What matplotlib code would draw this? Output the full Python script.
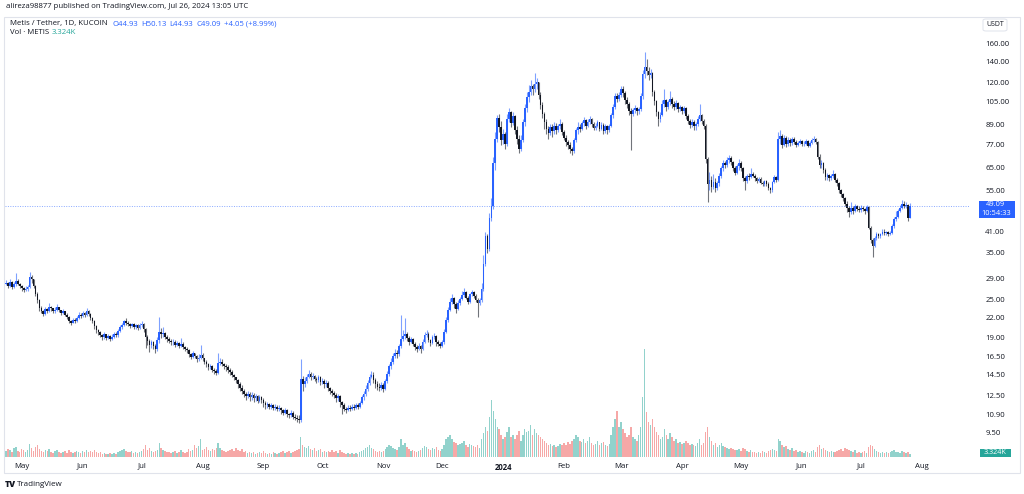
import numpy as np
import pandas as pd
import matplotlib
matplotlib.use("Agg")
import matplotlib.pyplot as plt
import matplotlib.dates as mdates
from matplotlib.patches import Rectangle, FancyBboxPatch
from matplotlib.ticker import NullLocator

plt.rcParams['font.family'] = ['Open Sans', 'DejaVu Sans']

# daily METIS/USDT (KuCoin) values, Apr 2023 -> Jul 26 2024
first_open = 28.0
last_date = "2024-07-26"
# last candle as shown in the legend: open, high, low, close / change, change %
last_ohlc = [44.93, 50.13, 44.93, 49.09]
last_change = [4.05, 8.99]

closes = [
    28.2, 27.6, 28.4, 27.3, 27.9, 28.6, 28.0, 27.5, 27.2, 26.7, 27.0,
    27.4, 29.5, 28.9, 27.5, 26.0, 24.8, 23.4, 23.0,
    22.5, 23.3, 23.0, 23.7, 23.4, 22.9, 23.2, 23.6, 23.1, 22.7, 22.9, 22.4, 22.0,
    21.3, 21.1, 21.6, 21.4, 21.9, 22.4, 22.1, 22.6, 22.3, 23.0, 22.5,
    21.8, 21.4, 20.6, 20.0, 19.7, 19.3, 19.0, 19.4, 18.9, 19.2, 18.8,
    19.1, 19.5, 19.3, 19.9, 20.4, 20.8, 21.3, 21.1, 20.9,
    20.6, 20.9, 20.4, 20.7, 20.3, 20.8, 20.9, 20.2, 19.1, 18.5, 18.0, 18.3, 17.8, 17.5,
    18.6, 19.8, 19.4, 19.6, 19.0, 18.7, 18.5, 18.3, 18.4, 18.0, 18.2, 17.9, 18.1, 17.7, 17.5, 17.3,
    16.8, 16.5, 16.9, 16.6, 16.2, 16.4, 16.7, 16.3, 15.9, 15.6, 15.3, 15.4, 15.0, 14.9, 14.7, 15.8, 15.9, 15.7,
    15.4, 15.3, 15.0, 14.8, 14.5, 14.2, 13.9, 13.5, 13.2, 12.9, 12.6, 12.4, 12.6, 12.3, 12.5, 12.2, 12.4, 12.0, 12.3, 12.1, 11.8,
    11.6, 11.7, 11.5, 11.6, 11.4, 11.5, 11.3, 11.4, 11.2, 11.0, 11.2, 10.9, 10.8, 11.0, 10.7, 10.6, 10.5,
    10.4, 14.0, 13.5, 13.8, 14.3, 14.6, 14.2, 14.4, 14.0, 13.9, 14.2, 13.7, 13.8, 13.5, 13.6,
    13.2, 12.9, 12.7, 12.5, 12.2, 12.4, 11.9, 11.6, 11.3, 11.2, 11.4, 11.3, 11.5, 11.4, 11.6, 11.5, 11.8,
    12.3, 12.6, 13.1, 13.6, 14.3, 14.5, 13.9, 13.5, 13.3, 13.2, 13.4, 13.1, 13.8, 14.6, 15.4, 15.9, 16.6, 17.0, 16.8,
    17.8, 18.8, 19.2, 19.5, 18.9, 18.4, 18.7, 18.1, 17.7, 17.5, 17.8, 17.4, 18.4, 19.3, 19.5, 18.6, 18.2, 19.0, 19.2, 18.3, 18.1, 17.9, 18.3,
    19.8, 21.5, 23.2, 24.6, 25.2, 24.1, 23.3, 24.4, 25.0, 25.8, 26.4, 25.3, 24.6, 25.9, 26.3, 25.6, 24.8, 24.3, 24.9,
    27.0, 32.3, 39.6, 36.0, 45.0, 49.0, 67.0, 80.0, 93.0,
    87.0, 79.0, 82.5, 76.8, 92.0, 97.0, 89.5, 94.0, 85.0, 80.0, 74.0, 79.5, 90.0, 100.0, 108.0,
    112.0, 117.0, 114.5, 119.0, 120.5, 110.0, 102.0, 96.0, 90.0, 86.0, 83.5, 87.0, 84.5,
    88.0, 85.5, 87.5, 89.0, 84.0, 80.5, 78.0, 76.5, 74.0, 73.0, 79.0, 85.0, 87.0, 86.0,
    89.5, 91.5, 88.0, 90.5, 92.5, 89.0, 86.5, 88.0, 90.0, 86.0, 88.5, 84.5, 87.5, 85.0, 88.0,
    95.0, 101.0, 109.0, 107.0, 110.0, 115.0, 111.0, 106.0, 103.0, 98.0, 96.0, 98.5, 100.0, 97.5, 99.5, 109.0,
    128.0, 134.0, 131.0, 127.0, 129.0, 112.0, 105.0, 97.0, 92.0, 95.0, 103.0, 106.0, 101.0, 104.0, 106.5, 103.0,
    101.0, 103.5, 99.0, 100.5, 98.0, 100.0, 94.0, 91.0, 88.5, 90.5, 87.5, 89.0, 92.5, 95.0, 91.0, 88.0,
    69.0, 57.5, 59.5, 56.5, 58.5, 56.0, 58.0, 61.0, 64.5, 67.0, 66.0, 68.5, 69.5, 67.5, 64.5, 62.5, 65.5, 67.0, 64.5, 60.0, 58.8,
    61.0, 60.5, 62.0, 61.2, 60.0, 59.0, 59.8, 58.2, 57.5, 58.8, 57.8, 56.0, 55.0, 58.5, 60.5, 59.5,
    80.0, 81.5, 76.5, 80.5, 77.0, 79.5, 77.5, 80.0, 78.0, 76.5, 77.8, 78.5, 76.8, 77.2, 78.8, 76.0, 77.5, 79.0, 80.0, 78.0,
    70.0, 66.0, 67.0, 64.0, 60.5, 61.5, 60.0, 61.0, 62.0, 59.5, 58.0, 55.0, 53.5, 52.0, 50.0, 48.5, 47.0,
    48.5, 47.5, 49.0, 48.2, 47.8, 48.5, 48.0, 47.3, 48.7, 42.0, 38.5, 36.8,
    39.0, 40.2, 39.5, 40.0, 40.8, 40.3, 40.6, 40.0, 40.5, 42.5, 44.8, 45.5, 47.5, 48.5, 50.0, 49.0, 49.5, 45.04, 49.09,
]

highs = [
    28.7, 28.4, 29.0, 28.6, 28.3, 30.2, 28.9, 28.2, 27.8, 27.4, 27.6,
    27.8, 30.5, 29.8, 29.0, 27.7, 26.3, 25.1, 23.8,
    23.2, 23.6, 23.5, 24.3, 23.9, 23.5, 23.6, 24.1, 23.7, 23.2, 23.3, 23.0, 22.6,
    22.1, 21.6, 21.9, 21.8, 22.2, 22.8, 22.6, 22.9, 22.8, 23.4, 23.1,
    22.6, 22.0, 21.6, 20.8, 20.2, 19.9, 19.5, 19.7, 19.5, 19.5, 19.3,
    19.4, 19.8, 19.7, 20.2, 20.7, 21.1, 21.6, 21.8, 21.3,
    21.0, 21.1, 21.1, 20.9, 20.9, 21.0, 21.4, 21.0, 20.3, 19.3, 18.7, 18.6, 18.5, 18.1,
    19.0, 22.0, 20.3, 20.5, 19.8, 19.3, 19.0, 18.8, 18.7, 18.6, 18.5, 18.4, 18.9, 18.3, 17.9, 17.7,
    17.4, 16.9, 17.2, 17.0, 16.7, 16.8, 18.0, 16.9, 16.4, 16.1, 15.8, 15.7, 15.5, 15.2, 15.1, 17.0, 16.4, 16.2,
    15.8, 15.7, 15.5, 15.2, 15.0, 14.6, 14.3, 14.0, 13.7, 13.4, 13.1, 12.8, 12.9, 12.8, 12.8, 12.7, 12.6, 12.5, 12.5, 12.4, 12.2,
    12.0, 11.9, 11.8, 11.8, 11.7, 11.7, 11.6, 11.6, 11.5, 11.3, 11.4, 11.3, 11.0, 11.2, 11.1, 10.9, 10.8,
    10.8, 16.2, 14.4, 14.2, 14.6, 15.0, 14.8, 14.7, 14.5, 14.3, 14.5, 14.4, 14.1, 14.0, 13.9,
    13.8, 13.3, 13.1, 12.9, 12.7, 12.6, 12.5, 12.0, 11.8, 11.5, 11.6, 11.6, 11.7, 11.7, 11.8, 11.8, 12.0,
    12.5, 12.9, 13.4, 13.9, 14.6, 14.9, 14.8, 14.1, 13.8, 13.6, 13.7, 13.6, 14.0, 14.9, 15.7, 16.3, 17.0, 17.4, 17.3,
    18.1, 22.4, 20.0, 21.8, 19.8, 19.2, 19.0, 18.9, 18.3, 18.0, 18.2, 18.0, 18.7, 19.7, 20.0, 19.7, 18.8, 19.3, 19.6, 19.3, 18.6, 18.4, 18.6,
    20.1, 22.0, 23.6, 25.2, 26.0, 25.5, 24.5, 24.8, 25.5, 26.5, 27.1, 26.6, 25.6, 26.2, 26.8, 26.6, 25.9, 25.2, 25.3,
    28.2, 34.5, 40.8, 40.2, 46.8, 52.0, 70.0, 84.0, 95.0,
    96.0, 91.0, 86.0, 84.0, 96.0, 100.0, 98.0, 97.0, 95.0, 88.0, 82.0, 82.0, 92.0, 103.0, 112.0,
    118.0, 122.0, 119.0, 129.0, 124.0, 121.0, 112.0, 104.0, 97.0, 92.0, 88.0, 89.0, 89.0,
    90.0, 89.5, 89.0, 92.0, 90.0, 85.5, 82.0, 79.5, 78.0, 75.5, 80.5, 86.5, 90.0, 89.0,
    91.0, 93.5, 92.5, 92.0, 94.0, 93.0, 90.0, 89.5, 91.5, 90.5, 90.0, 89.5, 89.0, 88.5, 89.0,
    96.5, 103.0, 111.0, 111.0, 112.0, 117.0, 117.0, 113.0, 108.0, 104.0, 100.0, 100.0, 102.0, 101.0, 101.0, 111.0,
    132.0, 150.0, 142.0, 134.0, 133.0, 130.0, 114.0, 106.0, 98.0, 97.0, 106.0, 115.0, 107.0, 106.0, 113.0, 108.0,
    105.0, 106.0, 104.0, 102.0, 101.5, 101.5, 100.5, 96.0, 92.5, 92.0, 91.5, 90.5, 94.0, 103.0, 96.0, 92.0,
    89.0, 70.0, 63.0, 61.0, 62.0, 60.0, 59.0, 62.5, 65.5, 68.5, 68.0, 70.0, 71.0, 70.5, 68.0, 65.5, 66.5, 69.0, 68.0, 65.0, 61.0,
    62.0, 62.5, 64.5, 63.0, 62.0, 60.5, 60.5, 60.5, 58.8, 59.5, 59.3, 58.3, 56.5, 59.0, 61.5, 61.0,
    84.0, 85.0, 82.5, 82.0, 81.5, 81.0, 80.5, 81.0, 81.0, 79.0, 78.5, 80.0, 79.0, 78.5, 80.0, 79.5, 78.5, 80.5, 81.5, 80.5,
    78.5, 71.5, 68.5, 67.5, 64.5, 62.5, 62.0, 62.0, 64.0, 62.5, 60.0, 58.5, 55.5, 54.0, 52.5, 51.0, 49.0,
    50.5, 49.0, 50.0, 49.5, 49.0, 49.5, 49.0, 48.5, 49.5, 49.0, 42.5, 39.0,
    39.5, 40.8, 40.5, 40.5, 41.5, 41.5, 41.0, 41.0, 41.0, 43.0, 45.5, 47.5, 48.0, 49.5, 51.5, 51.0, 50.5, 50.0, 50.13,
]

lows = [
    27.7, 27.2, 27.4, 27.0, 27.1, 27.6, 27.7, 27.1, 26.6, 26.3, 26.5,
    26.6, 27.1, 28.2, 27.2, 25.6, 24.3, 23.0, 22.6,
    22.1, 22.3, 22.7, 22.8, 23.0, 22.6, 22.7, 23.0, 22.8, 22.4, 22.5, 22.1, 21.7,
    21.0, 20.8, 21.0, 21.1, 21.2, 21.7, 21.8, 22.0, 22.0, 22.1, 22.2,
    21.5, 21.0, 20.2, 19.6, 19.3, 19.0, 18.6, 18.8, 18.6, 18.7, 18.5,
    18.6, 18.9, 19.0, 19.1, 19.7, 20.2, 20.6, 20.8, 20.6,
    20.3, 20.4, 20.1, 20.2, 20.0, 20.2, 20.5, 19.8, 17.6, 18.0, 17.1, 17.6, 17.4, 17.0,
    17.2, 18.2, 18.9, 19.0, 18.7, 18.4, 18.2, 18.0, 18.0, 17.7, 17.8, 17.6, 17.7, 17.4, 17.2, 17.0,
    16.5, 16.2, 16.4, 16.3, 15.9, 16.0, 16.2, 16.0, 15.6, 15.3, 15.0, 15.1, 14.8, 14.6, 14.5, 14.6, 15.5, 15.4,
    15.1, 14.9, 14.7, 14.5, 14.2, 13.9, 13.6, 13.2, 12.9, 12.6, 12.3, 12.1, 12.2, 12.0, 12.1, 11.9, 12.0, 11.8, 11.9, 11.8, 11.5,
    11.3, 11.4, 11.3, 11.3, 11.2, 11.2, 11.1, 11.1, 10.9, 10.8, 10.9, 10.7, 10.6, 10.7, 10.5, 10.4, 10.3,
    10.2, 10.3, 12.9, 13.3, 13.6, 14.1, 13.9, 14.0, 13.8, 13.6, 13.7, 13.4, 13.5, 13.2, 13.3,
    12.9, 12.6, 12.4, 12.2, 11.9, 12.0, 11.5, 10.9, 11.1, 11.0, 11.1, 11.1, 11.2, 11.2, 11.3, 11.3, 11.4,
    11.7, 12.1, 12.4, 12.9, 13.4, 14.1, 13.6, 13.2, 13.0, 12.9, 13.0, 12.8, 13.0, 13.6, 14.4, 15.1, 15.7, 16.3, 16.4,
    16.6, 17.6, 18.5, 18.8, 18.5, 18.0, 18.2, 17.8, 17.3, 17.1, 17.3, 17.0, 17.3, 18.2, 19.0, 18.3, 17.9, 18.1, 18.8, 17.9, 17.8, 17.6, 17.7,
    18.1, 19.6, 21.2, 22.9, 24.2, 23.4, 22.6, 23.1, 24.0, 24.8, 25.5, 25.0, 24.2, 24.4, 25.6, 25.2, 24.5, 22.0, 24.0,
    24.6, 26.5, 31.8, 35.0, 35.5, 44.0, 48.0, 64.0, 78.0,
    84.0, 76.5, 77.0, 74.0, 76.0, 90.0, 87.0, 88.5, 83.0, 77.0, 72.0, 73.0, 78.0, 88.0, 97.0,
    104.0, 110.0, 110.0, 112.0, 115.0, 107.0, 99.0, 93.0, 86.0, 83.0, 80.0, 82.0, 81.0,
    83.0, 83.0, 84.0, 86.0, 82.0, 79.0, 76.0, 74.0, 72.0, 71.0, 72.0, 78.0, 83.0, 84.0,
    85.0, 87.5, 86.0, 87.0, 89.0, 87.0, 85.0, 85.5, 87.0, 84.5, 85.0, 82.5, 83.5, 83.0, 84.0,
    87.0, 93.0, 99.0, 104.0, 105.0, 108.0, 108.0, 103.0, 100.0, 95.0, 73.5, 94.0, 96.5, 95.0, 96.0, 98.0,
    107.0, 124.0, 127.0, 122.0, 124.0, 109.0, 102.0, 94.0, 88.0, 90.0, 94.0, 101.0, 98.0, 99.0, 102.0, 100.0,
    98.5, 99.5, 97.0, 97.5, 96.0, 96.5, 92.0, 89.0, 86.5, 87.0, 85.5, 85.0, 87.5, 91.0, 89.0, 86.0,
    67.0, 50.5, 55.0, 54.5, 55.5, 54.5, 55.0, 57.0, 60.0, 63.5, 64.5, 65.0, 67.0, 66.0, 63.5, 61.5, 62.0, 64.0, 63.5, 59.0, 55.0,
    58.0, 59.5, 60.0, 60.5, 59.0, 58.0, 58.3, 57.5, 56.8, 57.0, 57.0, 55.0, 54.0, 54.5, 58.0, 58.5,
    59.0, 77.0, 75.0, 76.0, 75.5, 76.0, 76.0, 76.5, 77.0, 75.5, 76.0, 77.0, 76.0, 76.0, 76.5, 75.5, 75.5, 77.0, 78.0, 77.0,
    69.0, 64.5, 64.5, 62.5, 59.5, 59.5, 59.0, 59.5, 60.0, 58.5, 57.0, 54.0, 52.5, 51.0, 49.0, 47.0, 45.5,
    46.5, 46.5, 47.0, 47.5, 47.0, 47.2, 47.3, 46.5, 47.0, 41.5, 37.5, 34.0,
    36.5, 38.5, 39.0, 39.0, 39.8, 39.8, 39.8, 39.5, 39.7, 40.2, 42.0, 44.0, 45.0, 47.0, 48.0, 48.5, 48.5, 44.0, 44.93,
]

# volume in thousands of METIS
volumes = [
    6, 8, 7, 5, 9, 10, 6, 5, 8, 7, 5,
    7, 13, 9, 6, 10, 12, 8, 6,
    5, 7, 6, 8, 5, 4, 6, 7, 5, 4, 5, 6, 4,
    7, 5, 4, 5, 6, 5, 4, 6, 5, 7, 5,
    6, 5, 7, 5, 4, 5, 3, 4, 3, 3, 4,
    3, 4, 3, 5, 6, 7, 8, 6, 5,
    5, 6, 4, 5, 4, 5, 6, 8, 12, 7, 9, 6, 5, 6,
    7, 14, 9, 7, 6, 5, 5, 4, 5, 6, 4, 5, 7, 5, 4, 5,
    8, 6, 7, 12, 9, 11, 18, 7, 8, 10, 7, 6, 8, 7, 9, 14, 9, 7,
    6, 5, 6, 7, 8, 6, 9, 7, 6, 8, 5, 6, 4, 5, 4, 5, 3, 4, 5, 4, 6,
    4, 3, 4, 3, 5, 4, 3, 4, 5, 6, 4, 5, 6, 4, 5, 6, 7,
    8, 20, 12, 10, 9, 11, 8, 7, 9, 6, 7, 8, 5, 6, 5,
    6, 5, 7, 5, 6, 4, 7, 5, 4, 3, 4, 3, 4, 3, 4, 3, 5,
    6, 7, 9, 10, 12, 9, 8, 6, 5, 6, 5, 6, 8, 10, 12, 11, 9, 8, 7,
    10, 18, 12, 14, 10, 8, 6, 7, 6, 5, 6, 7, 9, 11, 10, 8, 7, 9, 8, 10, 7, 6, 8,
    12, 18, 20, 22, 18, 15, 14, 12, 13, 14, 16, 12, 10, 13, 12, 11, 10, 12, 9,
    18, 24, 30, 26, 40, 57, 46, 38, 30,
    28, 22, 18, 20, 25, 30, 20, 22, 18, 22, 26, 16, 22, 28, 25,
    26, 32, 22, 28, 24, 22, 20, 18, 16, 14, 12, 13, 11,
    12, 10, 11, 13, 12, 14, 12, 15, 13, 16, 18, 22, 20, 16,
    15, 18, 14, 16, 20, 14, 12, 13, 16, 12, 14, 15, 12, 11, 13,
    22, 30, 38, 46, 30, 35, 28, 24, 20, 22, 30, 20, 18, 16, 22, 30,
    60, 108, 45, 35, 32, 38, 30, 25, 22, 18, 20, 28, 22, 18, 24, 20,
    16, 18, 14, 15, 13, 14, 16, 14, 12, 13, 12, 11, 14, 18, 12, 14,
    25, 30, 20, 16, 12, 14, 10, 12, 14, 11, 10, 9, 8, 9, 8, 7, 7, 8, 6, 9, 8,
    6, 5, 7, 5, 5, 4, 5, 4, 6, 5, 4, 6, 7, 8, 7, 6,
    18, 16, 12, 10, 11, 8, 7, 9, 6, 7, 5, 6, 5, 4, 6, 5, 4, 6, 7, 5,
    10, 12, 8, 9, 7, 6, 5, 6, 5, 5, 6, 7, 8, 6, 9, 8, 7,
    6, 5, 7, 4, 5, 4, 5, 6, 4, 10, 12, 11,
    8, 6, 5, 4, 5, 4, 5, 4, 5, 6, 7, 5, 5, 4, 6, 5, 4, 5, 3.324,
]

price_ticks = [9.5, 10.9, 12.5, 14.5, 16.5, 19, 22, 25, 29, 35, 41, 55, 65, 77, 89, 105, 120, 140, 160]
month_ticks = ["2023-05-01", "2023-06-01", "2023-07-01", "2023-08-01", "2023-09-01", "2023-10-01",
               "2023-11-01", "2023-12-01", "2024-01-01", "2024-02-01", "2024-03-01", "2024-04-01",
               "2024-05-01", "2024-06-01", "2024-07-01", "2024-08-01"]
month_labels = ["May", "Jun", "Jul", "Aug", "Sep", "Oct", "Nov", "Dec", "2024",
                "Feb", "Mar", "Apr", "May", "Jun", "Jul", "Aug"]

assert len(closes) == len(highs) == len(lows) == len(volumes), (len(closes), len(highs), len(lows), len(volumes))

UP = "#2962ff"
DOWN = "#131722"
TXT = "#131722"
VOL_UP = "#26a69a"
VOL_DN = "#ef5350"

dates = pd.date_range(end=last_date, periods=len(closes), freq="D")
x = mdates.date2num(dates)
c = np.array(closes, dtype=float)
o = np.array([first_open] + closes[:-1], dtype=float)
o[-1] = last_ohlc[0]
h = np.maximum(np.array(highs, dtype=float), np.maximum(o, c))
l = np.minimum(np.array(lows, dtype=float), np.minimum(o, c))
up = c >= o

W, H = 1024, 494
fig = plt.figure(figsize=(W / 100, H / 100), dpi=100)
fig.patch.set_facecolor("white")

# pixel helpers (figure coords)
def fx(px):
    return px / W

def fy(py):
    return 1 - py / H

ax_top, ax_bot, ax_left, ax_right = 17, 457, 5, 970
ax = fig.add_axes([fx(ax_left), fy(ax_bot), (ax_right - ax_left) / W, (ax_bot - ax_top) / H])
axv = ax.twinx()
ax.set_zorder(axv.get_zorder() + 1)
ax.patch.set_visible(False)

# volume
vcol = [VOL_UP if u else VOL_DN for u in up]
axv.bar(x, volumes, width=0.75, color=vcol, alpha=0.5, linewidth=0)
axv.set_ylim(0, max(volumes) * (ax_bot - ax_top) / 108)
axv.axis("off")

# candles
ccol = [UP if u else DOWN for u in up]
ax.vlines(x, l, h, colors=ccol, linewidth=0.8, alpha=0.6)
body = np.maximum(np.abs(c - o), c * 0.005)
ax.bar(x, body, bottom=np.minimum(o, c), width=0.85, color=ccol, linewidth=0)

last = closes[-1]
ax.axhline(last, color=UP, linewidth=0.7, linestyle=(0, (1, 1.5)), alpha=0.55)

ax.set_yscale("log")
ax.set_ylim(160 * 10 ** (-(ax_bot - 43) / 318), 160 * 10 ** ((43 - ax_top) / 318))
day0 = x[0]
ax.set_xlim(day0 - (6 - ax_left) / 1.965, day0 + (ax_right - 6) / 1.965)

ax.yaxis.tick_right()
ax.yaxis.set_minor_locator(NullLocator())
ax.set_yticks(price_ticks)
ax.set_yticklabels([f"{v:.2f}" for v in price_ticks])
ax.tick_params(axis="y", length=0, pad=11, labelsize=5.6, labelcolor=TXT)

ax.set_xticks(mdates.date2num(pd.to_datetime(month_ticks)))
ax.set_xticklabels(month_labels)
ax.tick_params(axis="x", length=0, pad=4, labelsize=5.6, labelcolor=TXT)
for lab in ax.get_xticklabels():
    if lab.get_text() == "2024":
        lab.set_fontweight("bold")

for s in ax.spines.values():
    s.set_visible(False)

# outer frame
fig.patches.append(Rectangle((fx(4), fy(473)), (1020 - 4) / W, (473 - 17) / H, transform=fig.transFigure,
                             fill=False, edgecolor="#e0e3eb", linewidth=0.8))

# price and volume labels on the scale
fig.patches.append(Rectangle((fx(979), fy(218)), 36 / W, 17 / H, transform=fig.transFigure,
                             facecolor=UP, edgecolor="none"))
fig.text(fx(986), fy(205), f"{last:.2f}", color="white", fontsize=5.4, va="center", ha="left")
fig.text(fx(981), fy(213.5), "10:54:33", color="white", fontsize=5.4, va="center", ha="left")

fig.patches.append(Rectangle((fx(980), fy(457)), 31 / W, 8.5 / H, transform=fig.transFigure,
                             facecolor=VOL_UP, edgecolor="none"))
fig.text(fx(995.5), fy(452.8), f"{volumes[-1]:.3f}K", color="white", fontsize=5.2, va="center", ha="center")

fig.patches.append(FancyBboxPatch((fx(983), fy(31)), 24 / W, 12 / H, transform=fig.transFigure,
                                  boxstyle="round,pad=0,rounding_size=0.003", facecolor="white",
                                  edgecolor="#e0e3eb", linewidth=0.7))
fig.text(fx(995), fy(25), "USDT", color=TXT, fontsize=5.0, va="center", ha="center")

# header lines: runs of (text, colour, gap after in px)
renderer = fig.canvas.get_renderer()

def draw_runs(px, py, runs, size=5.6):
    for s, col, gap in runs:
        t = fig.text(fx(px), fy(py), s, color=col, fontsize=size, va="center", ha="left")
        px += t.get_window_extent(renderer=renderer).width + gap

fig.text(fx(6), fy(7), "alireza98877 published on TradingView.com, Jul 26, 2024 13:05 UTC",
         color=TXT, fontsize=5.6, va="center", ha="left")

draw_runs(10, 24, [("Metis / Tether, 1D, KUCOIN", TXT, 5),
                   (f"O{last_ohlc[0]:.2f}", UP, 3),
                   (f"H{last_ohlc[1]:.2f}", UP, 3),
                   (f"L{last_ohlc[2]:.2f}", UP, 3),
                   (f"C{last_ohlc[3]:.2f}", UP, 3),
                   (f"+{last_change[0]:.2f} (+{last_change[1]:.2f}%)", UP, 0)])
draw_runs(10, 33, [("Vol · METIS", TXT, 3), (f"{volumes[-1]:.3f}K", VOL_UP, 0)])

# footer logo
fig.text(fx(5), fy(484), "TV", color=TXT, fontsize=6.2, fontweight="heavy", va="center", ha="left")
fig.text(fx(17), fy(484), "TradingView", color=TXT, fontsize=5.8, va="center", ha="left")

fig.savefig("out.png", dpi=100, facecolor="white")
